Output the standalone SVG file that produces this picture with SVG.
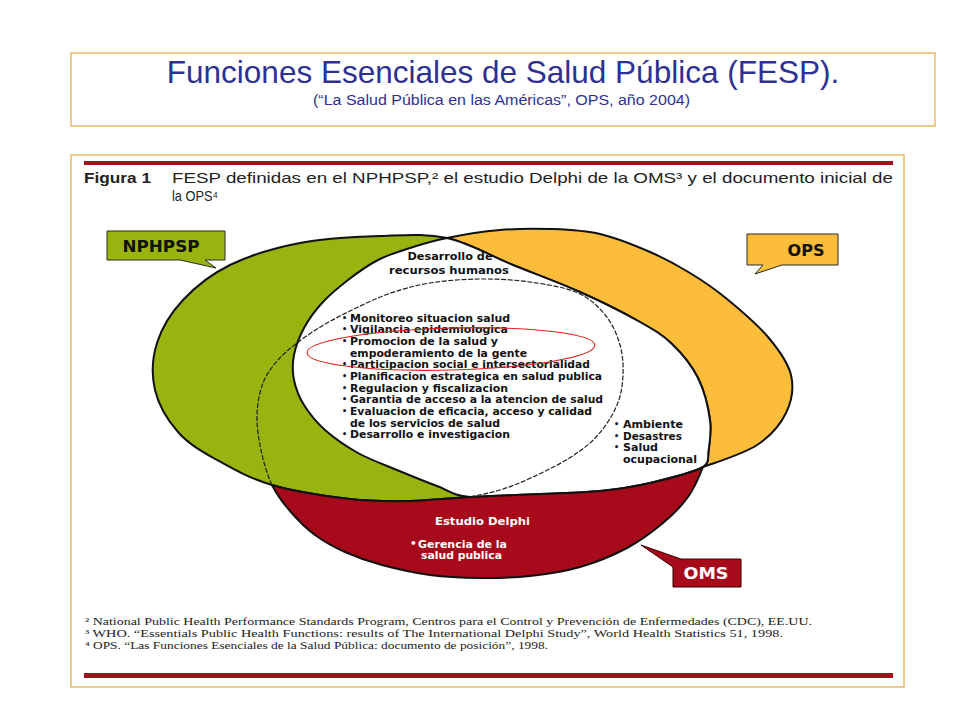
<svg xmlns="http://www.w3.org/2000/svg" width="960" height="720" viewBox="0 0 960 720">
<defs>
<style>
.frame{fill:none;stroke:#E6A83C;stroke-width:1.2}
.bar{fill:#A50F1D}
.title{font-family:"Liberation Sans",Arial,sans-serif;fill:#2E3192}
.hdr{font-family:"Liberation Sans",Arial,sans-serif;fill:#222;font-size:15px}
.foot{font-family:"Liberation Serif","Times New Roman",serif;fill:#222;font-size:11px}
.ell{stroke:#111;stroke-width:2;stroke-linejoin:round}
.lbl{font-family:"DejaVu Sans",Verdana,sans-serif;font-weight:bold;font-size:10.5px;fill:#111}
.bul{font-family:"DejaVu Sans",Verdana,sans-serif;font-weight:bold;font-size:8px;fill:#111}
.wlbl{font-family:"DejaVu Sans",Verdana,sans-serif;font-weight:bold;font-size:10.5px;fill:#fff}
.call{font-family:"DejaVu Sans",Verdana,sans-serif;font-weight:bold;font-size:15px}
.green{fill:#99B30F}
.yellow{fill:#FCBD3A}
.red{fill:#A60A1B}
</style>
</defs>
<rect width="960" height="720" fill="#fff"/>

<g id="title">
<rect class="frame" x="71" y="53" width="864" height="73"/>
<text class="title" x="503" y="83" font-size="31.5" text-anchor="middle">Funciones Esenciales de Salud Pública (FESP).</text>
<text class="title" x="313" y="105" font-size="14" textLength="377" lengthAdjust="spacingAndGlyphs">(“La Salud Pública en las Américas”, OPS, año 2004)</text>
</g>

<g id="figure-frame">
<rect class="frame" x="71" y="155" width="833" height="532"/>
<rect class="bar" x="84" y="161" width="809" height="4"/>
<rect class="bar" x="84" y="673" width="809" height="5"/>
<text class="hdr" x="84" y="183" font-weight="bold" textLength="67" lengthAdjust="spacingAndGlyphs">Figura 1</text>
<text class="hdr" x="172" y="183" textLength="721" lengthAdjust="spacingAndGlyphs">FESP definidas en el NPHPSP,² el estudio Delphi de la OMS³ y el documento inicial de</text>
<text class="hdr" x="172" y="201" textLength="46" lengthAdjust="spacingAndGlyphs">la OPS⁴</text>
</g>

<g id="node-nphpsp">
<path class="ell green" d="M447,238 C424.8,233.2 404.5,235.2 380,236 C355.5,236.8 325,238.2 300,243 C275,247.8 249.5,255.5 230,265 C210.5,274.5 195.2,287 183,300 C170.8,313 161.7,328 157,343 C152.3,358 151.5,375.2 155,390 C158.5,404.8 167.7,420.3 178,432 C188.3,443.7 201.3,451.2 217,460 C232.7,468.8 249.8,478.5 272,485 C294.2,491.5 327,496.3 350,499 C373,501.7 390,501.3 410,501 C430,500.7 448.3,498.2 470,497 C491.7,495.8 518.3,495 540,494 C561.7,493 581.7,492.8 600,491 C618.3,489.2 632.8,487 650,483 C667.2,479 693.3,472.2 703,467 C710,462 707.5,458 708.5,451 C709.5,444 711.7,432.3 710,420 C708.3,407.7 704.3,390.7 698,378 C691.7,365.3 681.7,353.3 672,344 C662.3,334.7 655.3,330.7 640,322 C624.7,313.3 601.2,301.5 580,292 C558.8,282.5 535.2,274 513,265 C490.8,256 469.2,242.8 447,238 Z"/>
</g>

<g id="node-ops">
<path class="ell yellow" d="M447,238 C462.8,234.7 482.8,231.5 500,230 C517.2,228.5 533.3,228.3 550,229 C566.7,229.7 583.3,230.2 600,234 C616.7,237.8 635,245.5 650,252 C665,258.5 677.2,265.2 690,273 C702.8,280.8 714,288.3 727,299 C740,309.7 757.3,324.3 768,337 C778.7,349.7 788,362.3 791,375 C794,387.7 791.7,401.3 786,413 C780.3,424.7 770.8,436 757,445 C743.2,454 720.8,460.7 703,467 C710,462 707.5,458 708.5,451 C709.5,444 711.7,432.3 710,420 C708.3,407.7 704.3,390.7 698,378 C691.7,365.3 681.7,353.3 672,344 C662.3,334.7 655.3,330.7 640,322 C624.7,313.3 601.2,301.5 580,292 C558.8,282.5 535.2,274 513,265 C490.8,256 469.2,242.8 447,238 Z"/>
</g>

<g id="node-core">
<path class="ell" fill="#fff" d="M447,238 C432,241 421.5,244.3 410,248 C398.5,251.7 388.3,254.7 378,260 C367.7,265.3 357.3,272.8 348,280 C338.7,287.2 329.3,295 322,303 C314.7,311 308.7,319.3 304,328 C299.3,336.7 295.7,346.3 294,355 C292.3,363.7 292.3,371.7 294,380 C295.7,388.3 298.8,396.7 304,405 C309.2,413.3 316,422 325,430 C334,438 346,446.3 358,453 C370,459.7 383.8,464.5 397,470 C410.2,475.5 424.8,481.5 437,486 C449.2,490.5 452.8,495.7 470,497 C491.7,495.8 518.3,495 540,494 C561.7,493 581.7,492.8 600,491 C618.3,489.2 632.8,487 650,483 C667.2,479 693.3,472.2 703,467 C710,462 707.5,458 708.5,451 C709.5,444 711.7,432.3 710,420 C708.3,407.7 704.3,390.7 698,378 C691.7,365.3 681.7,353.3 672,344 C662.3,334.7 655.3,330.7 640,322 C624.7,313.3 601.2,301.5 580,292 C558.8,282.5 535.2,274 513,265 C490.8,256 469.2,242.8 447,238 Z"/>
<text class="lbl" x="450" y="260" text-anchor="middle" textLength="85" lengthAdjust="spacingAndGlyphs">Desarrollo de</text>
<text class="lbl" x="449" y="274" text-anchor="middle" textLength="120" lengthAdjust="spacingAndGlyphs">recursos humanos</text>
<g class="lbl">
<text class="bul" x="342" y="321">•</text><text x="350" y="322" textLength="160" lengthAdjust="spacingAndGlyphs">Monitoreo situacion salud</text>
<text class="bul" x="342" y="332">•</text><text x="350" y="333" textLength="158" lengthAdjust="spacingAndGlyphs">Vigilancia epidemiologica</text>
<text class="bul" x="342" y="344">•</text><text x="350" y="345" textLength="148" lengthAdjust="spacingAndGlyphs">Promocion de la salud y</text>
<text x="350" y="357" textLength="177" lengthAdjust="spacingAndGlyphs">empoderamiento de la gente</text>
<text class="bul" x="342" y="367">•</text><text x="350" y="368" textLength="240" lengthAdjust="spacingAndGlyphs">Participacion social e intersectorialidad</text>
<text class="bul" x="342" y="379">•</text><text x="350" y="380" textLength="252" lengthAdjust="spacingAndGlyphs">Planificacion estrategica en salud publica</text>
<text class="bul" x="342" y="391">•</text><text x="350" y="392" textLength="158" lengthAdjust="spacingAndGlyphs">Regulacion y fiscalizacion</text>
<text class="bul" x="342" y="402">•</text><text x="350" y="403" textLength="253" lengthAdjust="spacingAndGlyphs">Garantia de acceso a la atencion de salud</text>
<text class="bul" x="342" y="414">•</text><text x="350" y="415" textLength="242" lengthAdjust="spacingAndGlyphs">Evaluacion de eficacia, acceso y calidad</text>
<text x="350" y="427" textLength="150" lengthAdjust="spacingAndGlyphs">de los servicios de salud</text>
<text class="bul" x="342" y="437">•</text><text x="350" y="438" textLength="160" lengthAdjust="spacingAndGlyphs">Desarrollo e investigacion</text>
</g>
<g class="lbl">
<text class="bul" x="614" y="427">•</text><text x="623" y="428" textLength="60" lengthAdjust="spacingAndGlyphs">Ambiente</text>
<text class="bul" x="614" y="439">•</text><text x="623" y="440" textLength="59" lengthAdjust="spacingAndGlyphs">Desastres</text>
<text class="bul" x="614" y="450">•</text><text x="623" y="451" textLength="35" lengthAdjust="spacingAndGlyphs">Salud</text>
<text x="623" y="463" textLength="74" lengthAdjust="spacingAndGlyphs">ocupacional</text>
</g>
</g>

<g id="node-oms">
<path class="ell red" d="M272,485 C276.7,494.3 282.8,502.7 290,511 C297.2,519.3 305.8,528.2 315,535 C324.2,541.8 333.8,547 345,552 C356.2,557 367.8,561.2 382,565 C396.2,568.8 413.7,572.8 430,575 C446.3,577.2 463.3,577.8 480,578 C496.7,578.2 513.3,577.8 530,576 C546.7,574.2 563.8,571.7 580,567 C596.2,562.3 613.2,555.3 627,548 C640.8,540.7 652.8,531.5 663,523 C673.2,514.5 681.3,506.3 688,497 C694.7,487.7 699.3,476.5 703,467 C693.3,472.2 667.2,479 650,483 C632.8,487 618.3,489.2 600,491 C581.7,492.8 561.7,493 540,494 C518.3,495 491.7,495.8 470,497 C448.3,498.2 430,500.7 410,501 C390,501.3 373,501.7 350,499 C327,496.3 294.2,491.5 272,485 Z"/>
<text class="wlbl" x="435" y="525" textLength="95" lengthAdjust="spacingAndGlyphs">Estudio Delphi</text>
<text class="wlbl" x="410" y="547" font-size="8">•</text><text class="wlbl" x="418" y="548" textLength="89" lengthAdjust="spacingAndGlyphs">Gerencia de la</text>
<text class="wlbl" x="421" y="559" textLength="81" lengthAdjust="spacingAndGlyphs">salud publica</text>
</g>

<g id="connectors">
<path fill="none" stroke="#222" stroke-width="1.2" stroke-dasharray="5 1.6" d="M272,485 C267.2,474.8 263.5,461.7 261,450 C258.5,438.3 256.7,426.2 257,415 C257.3,403.8 259.5,392.2 263,383 C266.5,373.8 272.3,366.7 278,360 C283.7,353.3 289.7,348.7 297,343 C304.3,337.3 313.2,331.3 322,326 C330.8,320.7 339,316.3 350,311 C361,305.7 374.7,298.7 388,294 C401.3,289.3 414.7,285.5 430,283 C445.3,280.5 463.3,279.2 480,279 C496.7,278.8 513.7,279.7 530,282 C546.3,284.3 565.3,287.3 578,293 C590.7,298.7 599,307.3 606,316 C613,324.7 617.2,335.2 620,345 C622.8,354.8 623.5,365 623,375 C622.5,385 621.2,395 617,405 C612.8,415 605.7,426.3 598,435 C590.3,443.7 581.8,450 571,457 C560.2,464 544.8,471.5 533,477 C521.2,482.5 510.5,486.7 500,490 C489.5,493.3 480,494.7 470,497"/>
</g>

<g id="callout-nphpsp">
<path class="green" stroke="#2a2a2a" stroke-width="1" d="M107,231 H225 V260 H205 L216,268 L180,260 H107 Z"/>
<text class="call" x="161" y="252" text-anchor="middle" fill="#111" textLength="77" lengthAdjust="spacingAndGlyphs">NPHPSP</text>
</g>

<g id="callout-ops">
<path class="yellow" stroke="#2a2a2a" stroke-width="1" d="M747,234 H838 V265 H782 L755,274 L763,265 H747 Z"/>
<text class="call" x="806" y="256" text-anchor="middle" fill="#111" textLength="37" lengthAdjust="spacingAndGlyphs">OPS</text>
</g>

<g id="callout-oms">
<path class="red" stroke="#3a0000" stroke-width="1" d="M681,559 H741 V587 H673 V567 L641,545 Z"/>
<text class="call" x="706" y="579" text-anchor="middle" fill="#fff" font-size="17" textLength="45" lengthAdjust="spacingAndGlyphs">OMS</text>
</g>

<g id="highlight">
<ellipse cx="451" cy="349" rx="144" ry="21" transform="rotate(-1.5 451 349)" fill="none" stroke="#E0201C" stroke-width="1.1"/>
</g>

<g id="footnotes" class="foot">
<text x="85" y="625" textLength="727" lengthAdjust="spacingAndGlyphs">² National Public Health Performance Standards Program, Centros para el Control y Prevención de Enfermedades (CDC), EE.UU.</text>
<text x="85" y="637" textLength="698" lengthAdjust="spacingAndGlyphs">³ WHO. “Essentials Public Health Functions: results of The International Delphi Study”, World Health Statistics 51, 1998.</text>
<text x="85" y="649" textLength="463" lengthAdjust="spacingAndGlyphs">⁴ OPS. “Las Funciones Esenciales de la Salud Pública: documento de posición”, 1998.</text>
</g>
</svg>
